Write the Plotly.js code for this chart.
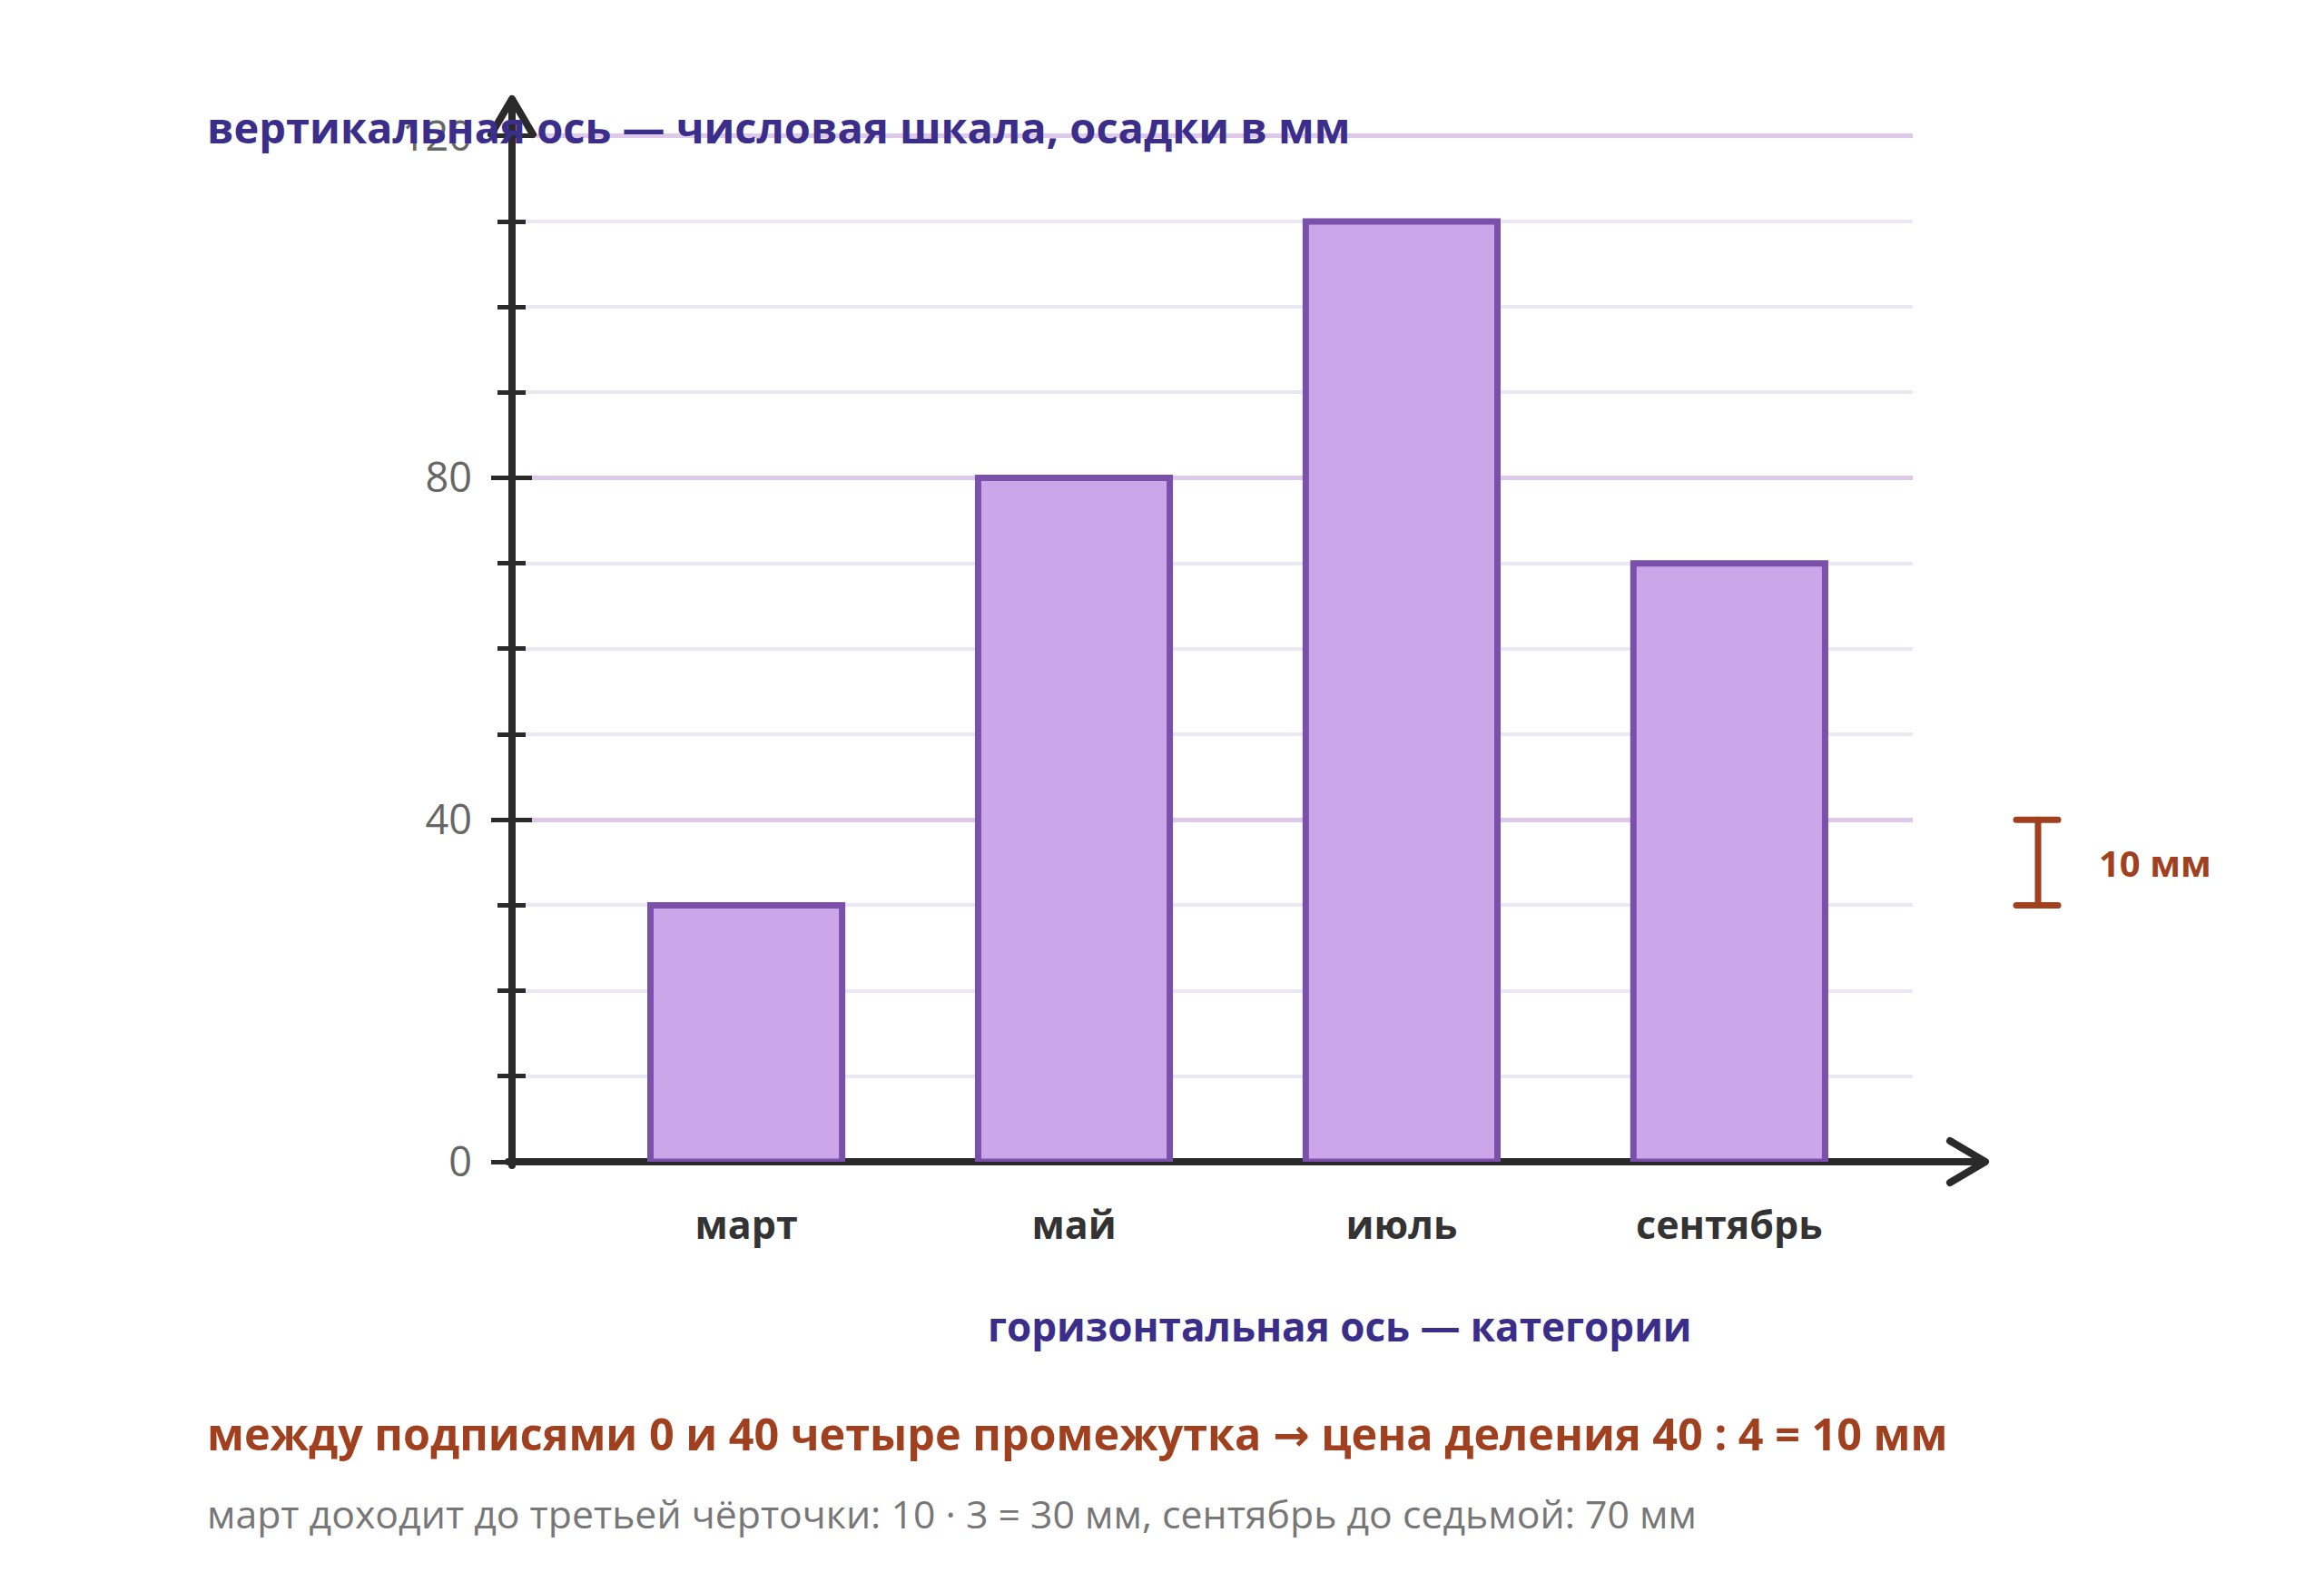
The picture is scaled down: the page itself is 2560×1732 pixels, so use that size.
<!DOCTYPE html>
<html>
<head>
<meta charset="utf-8">
<script src="https://cdn.plot.ly/plotly-3.0.1.min.js"></script>
<style>
html,body{margin:0;padding:0;background:#fff;}
#chart{width:2560px;height:1732px;}
</style>
</head>
<body>
<div id="chart"></div>
<script>
// ---- data ----
const months = ["март", "май", "июль", "сентябрь"];
const rainfallMm = [30, 80, 110, 70];
const yTickVals = [0, 40, 80, 120];
const yTickText = ["0", "40", "80", "120"];
const minorStep = 10;
const scaleBarFrom = 30;
const scaleBarTo = 40;

const titleText = "вертикальная ось — числовая шкала, осадки в мм";
const xAxisNote = "горизонтальная ось — категории";
const ruleText = "между подписями 0 и 40 четыре промежутка <span style=\"font-family:'DejaVu Sans'\">→</span> цена деления 40 : 4 = 10 мм";
const exampleText = "март доходит до третьей чёрточки: 10 · 3 = 30 мм, сентябрь до седьмой: 70 мм";
const scaleBarLabel = "10 мм";

// ---- geometry (pixels) ----
const W = 2560, H = 1732;
const L = 564, R = 2107, T = 147, B = 1280;
const yMax = 120.3;
const px = v => (v - L) / (R - L);
const py = v => (B - v) / (B - T);

const axisColor = "#2a2a2a";
const rust = "#a0401e";
const indigo = "#3b2d8a";
const FONT = "'Open Sans', 'Noto Sans', sans-serif";

const tickCommon = { tickcolor: axisColor, tickwidth: 5 };

const traces = [
  {
    type: "bar",
    x: months,
    y: rainfallMm,
    width: 0.585,
    marker: { color: "#cba6e8", line: { color: "#7b50ab", width: 7 } },
    hoverinfo: "skip",
    showlegend: false
  },
  {
    type: "scatter",
    mode: "markers",
    x: months,
    y: rainfallMm,
    yaxis: "y2",
    marker: { opacity: 0, size: 1 },
    hoverinfo: "skip",
    showlegend: false
  }
];

const shapes = [
  { type: "line", xref: "paper", yref: "paper", x0: px(560), x1: px(2184), y0: py(1280), y1: py(1280),
    line: { color: axisColor, width: 8 }, layer: "below" },
  { type: "path", xref: "paper", yref: "paper",
    path: `M ${px(2148)} ${py(1257)} L ${px(2187)} ${py(1280)} L ${px(2148)} ${py(1303)}`,
    line: { color: axisColor, width: 8 }, fillcolor: "rgba(0,0,0,0)", layer: "above" },
  { type: "line", xref: "paper", yref: "paper", x0: 0, x1: 0, y0: py(1284), y1: py(112),
    line: { color: axisColor, width: 8 }, layer: "above" },
  { type: "path", xref: "paper", yref: "paper",
    path: `M ${px(541)} ${py(148)} L ${px(564)} ${py(109)} L ${px(587)} ${py(148)}`,
    line: { color: axisColor, width: 8 }, fillcolor: "rgba(0,0,0,0)", layer: "above" },
  { type: "line", xref: "paper", yref: "y", x0: px(2245), x1: px(2245), y0: scaleBarFrom, y1: scaleBarTo,
    line: { color: rust, width: 7 } },
  { type: "line", xref: "paper", yref: "y", x0: px(2221), x1: px(2267), y0: scaleBarFrom, y1: scaleBarFrom,
    line: { color: rust, width: 7 } },
  { type: "line", xref: "paper", yref: "y", x0: px(2221), x1: px(2267), y0: scaleBarTo, y1: scaleBarTo,
    line: { color: rust, width: 7 } }
];

const annotations = [
  { text: titleText, xref: "paper", yref: "paper", x: px(226), y: py(140),
    xanchor: "left", yanchor: "middle", showarrow: false,
    font: { family: FONT, size: 47, color: indigo, weight: 700 } },
  { text: xAxisNote, xref: "paper", yref: "paper", x: px(1476), y: py(1461),
    xanchor: "center", yanchor: "middle", showarrow: false,
    font: { family: FONT, size: 44, color: indigo, weight: 700 } },
  { text: ruleText, xref: "paper", yref: "paper", x: px(226), y: py(1579),
    xanchor: "left", yanchor: "middle", showarrow: false,
    font: { family: FONT, size: 48.5, color: rust, weight: 700 } },
  { text: exampleText, xref: "paper", yref: "paper", x: px(226), y: py(1667),
    xanchor: "left", yanchor: "middle", showarrow: false,
    font: { family: FONT, size: 42.8, color: "#777777" } },
  { text: scaleBarLabel, xref: "paper", yref: "y", x: px(2310), y: (scaleBarFrom + scaleBarTo) / 2,
    xanchor: "left", yanchor: "middle", showarrow: false,
    font: { family: FONT, size: 40, color: rust, weight: 700 } }
];

const layout = {
  width: W, height: H,
  margin: { l: L, r: W - R, t: T, b: H - B, pad: 0 },
  paper_bgcolor: "#ffffff",
  plot_bgcolor: "#ffffff",
  font: { family: FONT },
  showlegend: false,
  xaxis: {
    type: "category",
    categoryorder: "array",
    categoryarray: months,
    range: [-0.715, 3.56],
    showline: false, showgrid: false, zeroline: false,
    ticks: "",
    ticklabelstandoff: 41,
    tickfont: { family: FONT, size: 43, color: "#333333", weight: 700 },
    fixedrange: true
  },
  yaxis: {
    range: [0, yMax],
    tickmode: "array",
    tickvals: yTickVals,
    ticktext: yTickText,
    ticks: "outside", ticklen: 22, ...tickCommon,
    showline: false, zeroline: false,
    showgrid: true, gridcolor: "#dfc9ea", gridwidth: 5,
    tickfont: { family: FONT, size: 45, color: "#666666" },
    ticklabelstandoff: 12,
    minor: { dtick: minorStep, tick0: 0, ticks: "outside", ticklen: 15, tickcolor: axisColor, tickwidth: 5,
             showgrid: true, gridcolor: "#ebe8f3", gridwidth: 4 },
    fixedrange: true
  },
  yaxis2: {
    overlaying: "y", side: "left", anchor: "x",
    range: [0, yMax],
    tickmode: "array",
    tickvals: yTickVals,
    ticks: "inside", ticklen: 22, ...tickCommon,
    showticklabels: false, showline: false, zeroline: false, showgrid: false,
    minor: { dtick: minorStep, tick0: 0, ticks: "inside", ticklen: 15, tickcolor: axisColor, tickwidth: 5, showgrid: false },
    fixedrange: true
  },
  shapes: shapes,
  annotations: annotations
};

Plotly.newPlot("chart", traces, layout, { staticPlot: true, displayModeBar: false }).then(() => {
  document.querySelectorAll(".shapelayer path").forEach(p => {
    p.style.strokeLinecap = "round";
    p.style.strokeLinejoin = "round";
  });
});
</script>
</body>
</html>
